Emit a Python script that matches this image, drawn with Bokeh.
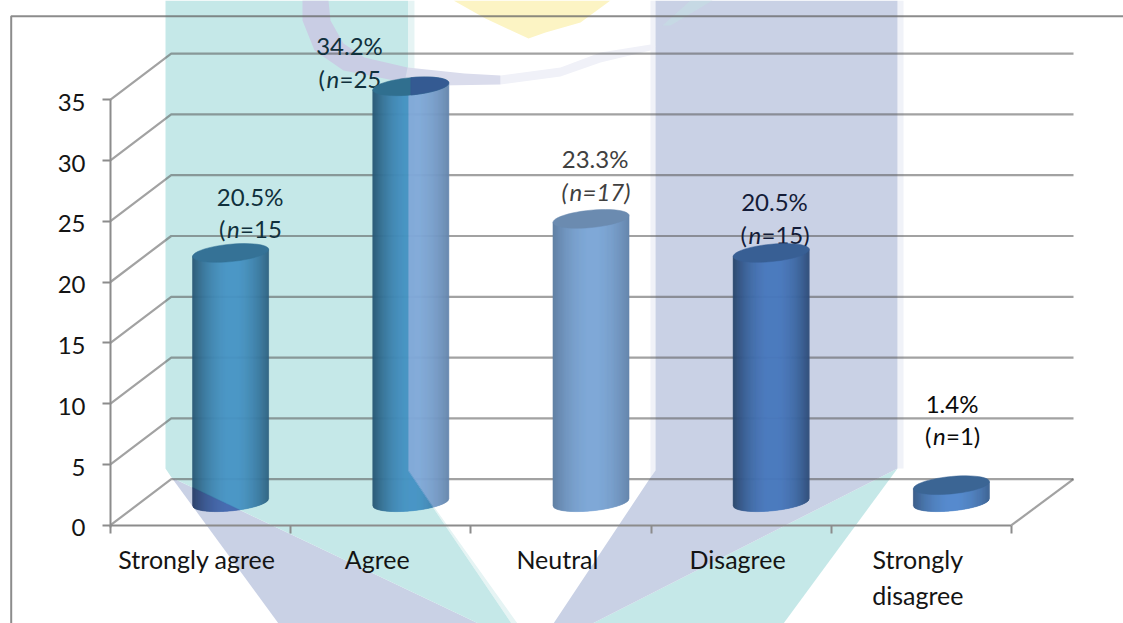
from bokeh.embed import file_html
from bokeh.resources import INLINE
from bokeh.plotting import figure
from bokeh.models import Range1d, FixedTicker
from bokeh.core.properties import value
import math

# Survey responses
categories = ["Strongly agree", "Agree", "Neutral", "Disagree", "Strongly\ndisagree"]
percent = [20.5, 34.2, 23.3, 20.5, 1.4]
counts = [15, 25, 17, 15, 1]
count_suffix = ["", "", ")", ")", ")"]
y_ticks = [0, 5, 10, 15, 20, 25, 30, 35]

W, H = 1123, 623
X0, UX = 110.0, 180.2      # pixel of category edge 0, pixels per category
Y0, UY = 524.7, 12.16      # pixel of value 0, pixels per value unit
DX, DY = 60.7, 46.0        # depth of the 3D box
BACK_RIGHT = 1073.0
BAR_DX, BAR_DY = 30.0, 23.0


def dx(px):
    return (px - X0) / UX


def dy(py):
    return (Y0 - py) / UY


p = figure(width=W, height=H, output_backend="svg", toolbar_location=None,
           x_range=Range1d(dx(0), dx(W)), y_range=Range1d(dy(H), dy(0)),
           min_border=0, outline_line_color=None, background_fill_color="white",
           border_fill_color="white")
p.xgrid.visible = False
p.ygrid.visible = False


def poly(points, color, alpha=1.0):
    p.patch([dx(a) for a, _ in points], [dy(b) for _, b in points],
            fill_color=color, fill_alpha=alpha, line_color=None)


# Backdrop emblem
TEAL, BLUE, YELLOW = "#c5e8e8", "#c9d1e5", "#fcf4c4"
poly([(453, 0), (485, 18), (528, 38), (545, 32), (580, 22), (610, 0)], YELLOW)
poly([(407.5, 0), (414, 0), (414, 479), (517, 623), (511, 623), (407.5, 470)], "#e6f4f4")
poly([(650, 0), (655, 0), (655, 470), (650, 477)], "#f0f2f8")
poly([(897, 0), (903, 0), (903, 468), (897, 468)], "#f0f2f8")
poly([(171, 477), (478, 623), (278, 623)], BLUE)
poly([(165, 0), (407.5, 0), (407.5, 470), (511, 623), (478, 623), (171, 477), (165, 468)], TEAL)
poly([(897, 468), (783, 623), (592, 623)], TEAL)
poly([(655, 0), (897, 0), (897, 468), (592, 623), (553, 623), (650, 477), (655, 470)], BLUE)
poly([(500, 75), (560, 67), (600, 52), (650, 44), (655, 46), (650, 50), (600, 62),
      (560, 76), (500, 84)], "#f0f1f8")
poly([(407, 67), (464, 73), (500, 75), (500, 84), (440, 85), (404, 82)], "#dadcec")
poly([(302, 0), (328, 0), (330, 20), (343, 43), (364, 57), (407, 67), (404, 82),
      (343, 70), (314, 50), (302, 20)], "#c9cde4")
poly([(690, 0), (712, 0), (670, 25), (662, 25)], "#c5dbe3", 0.8)

# Outer chart border
LINE, LINE_A = "#555555", 0.55
p.line([dx(10.7), dx(10.7), dx(W)], [dy(H), dy(15.7), dy(15.7)],
       line_color="#666666", line_alpha=0.75, line_width=2)

# Side wall, back wall and floor lines
for v in y_ticks:
    p.line([0, dx(X0 + DX), dx(BACK_RIGHT)], [v, v + DY / UY, v + DY / UY],
           line_color=LINE, line_alpha=LINE_A, line_width=2.2)
p.line([dx(BACK_RIGHT), 5], [DY / UY, 0], line_color=LINE, line_alpha=LINE_A, line_width=2.2)

# Real axes, pinned to the front edges of the box
LABEL_DROP = 0.22
y_label_ticks = [v - LABEL_DROP for v in y_ticks]
p.yaxis.fixed_location = 0
p.yaxis.bounds = (-LABEL_DROP, 35)
p.yaxis.ticker = FixedTicker(ticks=y_label_ticks, minor_ticks=y_ticks)
p.yaxis.major_label_overrides = dict(zip(y_label_ticks, [str(v) for v in y_ticks]))
p.yaxis.major_tick_line_color = None
p.yaxis.minor_tick_in = 0
p.yaxis.minor_tick_out = 8
p.yaxis.minor_tick_line_color = "#8c8c8c"
p.yaxis.minor_tick_line_width = 2
p.yaxis.major_tick_in = 0
p.yaxis.major_tick_out = 8
p.yaxis.major_label_standoff = 17
p.yaxis.major_label_text_font_size = "24px"

p.xaxis.fixed_location = 0
p.xaxis.bounds = (0, 5)
label_ticks = [i + 0.48 for i in range(5)]
p.xaxis.ticker = FixedTicker(ticks=label_ticks, minor_ticks=[0, 1, 2, 3, 4, 5])
p.xaxis.major_label_overrides = dict(zip(label_ticks, categories))
p.xaxis.major_tick_line_color = None
p.xaxis.minor_tick_in = 0
p.xaxis.minor_tick_out = 8
p.xaxis.minor_tick_line_color = "#8c8c8c"
p.xaxis.minor_tick_line_width = 2
p.xaxis.major_label_standoff = 11
p.xaxis.major_label_text_font_size = "25px"
for ax in (p.xaxis, p.yaxis):
    ax.axis_line_color = "#8c8c8c"
    ax.axis_line_width = 2
    ax.major_label_text_font = "Lato"
    ax.major_label_text_color = "#141414"

# Value labels: percentage line, then "(n=..." line
pct_pos = [(249.6, 196), (349, 45), (594.6, 158.3), (774, 200.7), (951.5, 402.7)]
n_pos = [(218.6, 228), (318, 78), (561, 190.7), (740, 234), (924.5, 435)]
text_colors = ["#10303c", "#10303c", "#404040", "#141c38", "#0a0a0a"]
FS = "24px"
for i, v in enumerate(percent):
    c = text_colors[i]
    p.text([dx(pct_pos[i][0])], [dy(pct_pos[i][1])], text=[f"{v:.1f}%"], text_font=value("Lato"),
           text_font_size=FS, text_align="center", text_baseline="middle", text_color=c)
    nx, ny = n_pos[i]
    rest_style = "italic" if i == 2 else "normal"
    p.text([dx(nx)], [dy(ny)], text=["("], text_font=value("Lato"), text_font_size=FS,
           text_font_style=rest_style, text_baseline="middle", text_color=c)
    p.text([dx(nx + 8)], [dy(ny)], text=["n"], text_font=value("Lato"), text_font_size=FS,
           text_font_style="italic", text_baseline="middle", text_color=c)
    p.text([dx(nx + 21)], [dy(ny)], text=[f"={counts[i]}{count_suffix[i]}"], text_font=value("Lato"),
           text_font_size=FS, text_font_style=rest_style, text_baseline="middle", text_color=c)


# Cylinders
def hex_rgb(h):
    return tuple(int(h[j:j + 2], 16) for j in (1, 3, 5))


def shaded(base, t, edge):
    f = 1 - (1 - edge) * abs(t - 0.05) ** 2.0
    r, g, b = hex_rgb(base)
    return "#%02x%02x%02x" % (int(r * f), int(g * f), int(b * f))


A, B, K = 38.0, 8.7, 3.5   # half width, half depth and tilt of the cylinder ends
C_TEAL, C_LIGHT = "#4795c5", "#80a9d8"
SPLIT_X = 408.0            # the second cylinder changes tone where the backdrop column ends
body_base = [C_TEAL, C_TEAL, C_LIGHT, "#4a7bc0", "#5087cc"]
cap_color = ["#357296", "#306f8f", "#6b8bb0", "#385f94", "#3b6594"]
edge_f = [0.62, 0.62, 0.78, 0.6, 0.68]


def lower(cy, x, cx):
    t = max(-1, min(1, (x - cx) / A))
    return cy - K * t + B * math.sqrt(1 - t * t)


def split_y(i, x):
    """Pixel height below which a bar shows the emblem's lower band, with that band's colour."""
    if i == 0:
        return 477 + 0.475 * (x - 171), "#4469b0"
    if i == 1 and x >= SPLIT_X:
        return 470 + (x - SPLIT_X) * 153 / 103.0, C_TEAL
    return None, None


for i, v in enumerate(percent):
    cx = X0 + (i + 0.5) * UX + BAR_DX
    base_py = Y0 - BAR_DY
    top_py = Y0 - (v * UY + BAR_DY)
    n = int(2 * A)
    xs, ys, fills = [], [], []
    for j in range(n):
        x1, x2 = cx - A + j, cx - A + j + 1
        xm = (x1 + x2) / 2
        t = (xm - cx) / A
        base = body_base[i]
        if i == 1 and xm >= SPLIT_X:
            base = C_LIGHT
        edge = 0.78 if base == C_LIGHT else edge_f[i]
        y_t1, y_t2 = top_py + K - K * (2 * j) / n, top_py + K - K * (2 * j + 2) / n
        y_b1, y_b2 = lower(base_py, x1, cx), lower(base_py, x2, cx)
        sy, band = split_y(i, xm)
        if sy is not None and sy < max(y_b1, y_b2):
            xs.append([dx(x1), dx(x2), dx(x2), dx(x1)])
            ys.append([dy(y_t1), dy(y_t2), dy(sy), dy(sy)])
            fills.append(shaded(base, t, edge))
            xs.append([dx(x1), dx(x2), dx(x2), dx(x1)])
            ys.append([dy(sy), dy(sy), dy(y_b2), dy(y_b1)])
            fills.append(shaded(band, t, 0.62))
        else:
            xs.append([dx(x1), dx(x2), dx(x2), dx(x1)])
            ys.append([dy(y_t1), dy(y_t2), dy(y_b2), dy(y_b1)])
            fills.append(shaded(base, t, edge))
    p.patches(xs, ys, fill_color=fills, line_color=fills, line_width=0.6)
    # top cap
    cap = []
    for j in range(49):
        th = 2 * math.pi * j / 48
        c, s = math.cos(th), math.sin(th)
        cap.append((cx + A * c, top_py - K * c + B * s))
    p.patch([dx(a) for a, _ in cap], [dy(b) for _, b in cap],
            fill_color=cap_color[i], line_color=cap_color[i], line_width=0.5)
    if i == 1:
        right_part = [(a, b) for a, b in cap if a >= SPLIT_X]
        p.patch([dx(a) for a, _ in right_part], [dy(b) for _, b in right_part],
                fill_color="#345a92", line_color="#345a92", line_width=0.5)

open("out.html", "w").write(file_html(p, INLINE))
